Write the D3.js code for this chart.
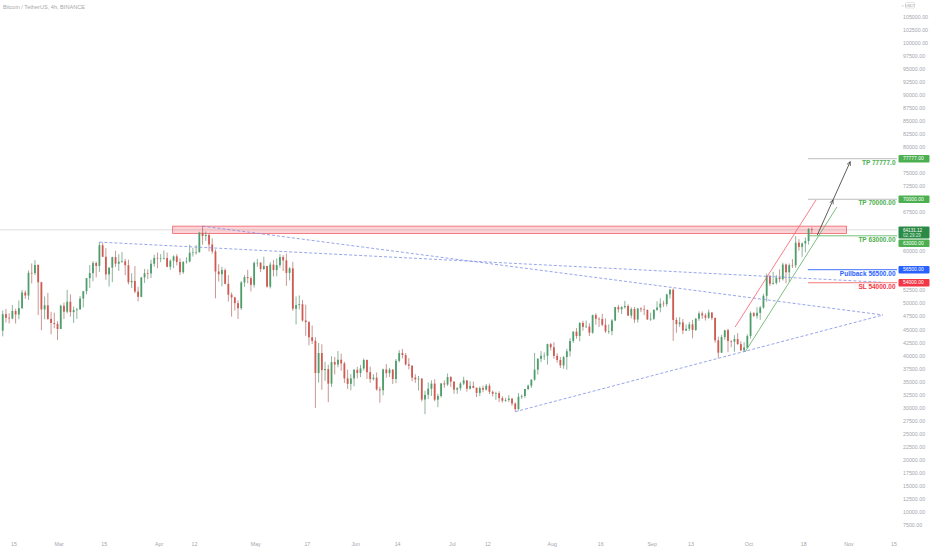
<!DOCTYPE html>
<html>
<head>
<meta charset="utf-8">
<script src="https://cdn.jsdelivr.net/npm/d3@7"></script>
<style>
  html, body { margin: 0; padding: 0; background: #fff; }
  svg { display: block; font-family: "Liberation Sans", Arial, sans-serif; }
</style>
</head>
<body>
<div id="chart"></div>
<script>
// BTC/USDT daily candles, 2021-02-11 .. 2021-10-20 (open = previous close)
const firstDay = "2021-02-11"
const firstOpen = 44807

const highs = [
  // Feb 11-28
  48678, 48985, 48150, 49707, 49010, 50600, 52618, 52530, 56368, 57700, 58352, 57533, 54183, 51374, 52041, 48424, 48253, 46638,
  // Mar
  49790, 50200, 52640, 51773, 49448, 49200, 51450, 52402, 54895, 57387, 58150, 58058, 61788, 61683, 60633, 56938, 58981, 60129, 59468, 59880, 58589, 58430, 55830, 57200, 53230, 55073, 56640, 56559, 58400, 59368, 59800,
  // Apr
  59490, 60200, 59791, 58500, 59251, 59475, 58650, 58153, 58894, 61300, 60680, 61200, 63774, 64854, 63800, 63520, 62500, 60400, 57526, 57076, 56757, 55460, 52130, 51300, 50591, 54356, 55466, 56476, 55200, 58075,
  // May
  58550, 57950, 58992, 57250, 57939, 58360, 58650, 59500, 59300, 59592, 57000, 58000, 51367, 51569, 50700, 49800, 46650, 45800, 43546, 42451, 42200, 38829, 38270, 39920, 39791, 40900, 40411, 38856, 37338, 36488, 37499,
  // Jun
  37894, 38225, 39476, 39289, 37921, 36477, 36800, 34068, 37534, 38400, 37690, 37463, 39380, 41064, 41330, 40527, 39559, 38202, 36457, 36137, 35750, 33298, 34881, 35298, 35500, 32730, 34749, 35297, 36600, 36100,
  // Jul
  35100, 33977, 34945, 35967, 35293, 35118, 35059, 33910, 34100, 34262, 34592, 34678, 33340, 33114, 33185, 32249, 31940, 32435, 31899, 31063, 32858, 32576, 33650, 34500, 35450, 40550, 39542, 40900, 40640, 42316, 42448,
  // Aug
  42599, 40480, 39780, 39969, 41350, 43392, 44700, 45310, 46454, 46700, 46743, 46218, 47886, 48144, 47372, 48053, 47160, 46000, 47033, 49382, 49757, 49500, 50500, 49875, 49300, 49369, 49184, 49309, 49667, 48888, 48246,
  // Sep
  48888, 50450, 51000, 50558, 51900, 52780, 52920, 47340, 47399, 47033, 45987, 46460, 46880, 47250, 48500, 48486, 48150, 48843, 48372, 47358, 43639, 44000, 44978, 45200, 42966, 43950, 44350, 42787, 42590, 44132,
  // Oct 1-20
  48495, 48359, 49300, 49530, 51886, 55750, 55400, 56100, 55489, 56561, 57839, 57680, 57700, 58532, 62933, 62350, 61720, 62675, 64486, 64600
]

const lows = [
  43727, 46400, 46202, 47014, 46174, 47003, 48947, 50901, 50710, 53863, 55477, 47800, 44892, 47003, 46890, 44106, 45269, 43000,
  45115, 47047, 48100, 47500, 46300, 47070, 48875, 49274, 51789, 53005, 54269, 55012, 56083, 58963, 54568, 53271, 54124, 57023, 56270, 57820, 55450, 53650, 53000, 52000, 50427, 51225, 53966, 54691, 54900, 57072, 56769,
  57935, 58435, 56956, 56478, 56800, 57333, 55473, 55700, 57654, 57900, 59018, 59369, 59800, 61301, 62020, 60000, 59580, 51000, 54221, 53329, 53695, 50400, 47500, 48657, 47044, 48800, 53222, 53887, 52330, 53068,
  57052, 56035, 56478, 53046, 52900, 55200, 55241, 56900, 56235, 53400, 54440, 48600, 46000, 48895, 46555, 43825, 42001, 42250, 30000, 34850, 33488, 35200, 31111, 34031, 36420, 37800, 37134, 34779, 33633, 33379, 34153,
  35666, 35920, 37170, 35555, 34800, 35258, 33300, 31000, 32396, 35791, 35950, 34600, 34757, 38730, 39506, 38116, 37365, 35129, 34803, 33336, 31251, 28805, 31683, 32286, 31275, 30151, 32000, 33862, 34225, 34017,
  32711, 32699, 33316, 34357, 33125, 33532, 33777, 32077, 32261, 33004, 33326, 32658, 32202, 31550, 31133, 31021, 31164, 31108, 30407, 29278, 29482, 31708, 31924, 33401, 33851, 35205, 36383, 38772, 39200, 38313, 41000,
  39422, 38690, 37642, 37508, 37332, 39853, 42450, 43261, 42779, 44800, 45341, 43770, 44217, 45971, 45500, 45660, 44376, 44203, 43927, 46622, 48280, 48004, 49029, 47600, 47163, 46315, 46366, 48370, 47801, 46853, 46700,
  46853, 48584, 48316, 49370, 49450, 50969, 42843, 44412, 45513, 44134, 44722, 44742, 43370, 44750, 46700, 47079, 46750, 47044, 46829, 42500, 39600, 40565, 43069, 40675, 41646, 40750, 42098, 40888, 40753, 41410,
  43283, 47451, 47120, 46891, 49022, 50382, 53357, 53617, 53661, 54080, 54415, 53879, 54167, 56818, 56850, 60150, 58963, 59844, 61322, 63500
]

const closes = [
  47969, 47287, 47153, 48577, 47911, 49133, 52119, 51552, 55906, 55841, 57408, 54087, 48891, 49676, 47073, 46277, 46106, 45135,
  49587, 48440, 50349, 48374, 48751, 48882, 50971, 52375, 54884, 55851, 57773, 57221, 61188, 58968, 55605, 56900, 58912, 57648, 58030, 58102, 57351, 54083, 54340, 52303, 51293, 55025, 55817, 55777, 57636, 58760, 58727,
  58730, 58735, 57059, 58206, 59054, 57970, 56013, 57972, 58077, 59765, 59793, 59846, 63588, 62959, 63159, 61334, 60006, 56150, 55633, 56425, 53787, 51700, 51187, 50089, 49121, 54050, 55074, 54882, 53602, 57800,
  57829, 56610, 57213, 53241, 57473, 56428, 57380, 58928, 58280, 55883, 56751, 49007, 49716, 49880, 46761, 46450, 43538, 42850, 36690, 40526, 37252, 37449, 34655, 38796, 38324, 39241, 38529, 35664, 34607, 35658, 37293,
  36699, 37568, 39187, 36851, 35520, 35797, 33552, 33380, 37388, 36675, 37331, 35546, 39020, 40516, 40144, 38349, 38092, 35820, 35483, 35600, 31608, 32509, 33678, 34663, 31584, 32283, 34700, 34494, 35911, 35045,
  33504, 33786, 34669, 35286, 33690, 34220, 33863, 32875, 33815, 33502, 34258, 33086, 32729, 32820, 31880, 31383, 31520, 31778, 30839, 29790, 32144, 32287, 33634, 34258, 35425, 37337, 39406, 39995, 40008, 42235, 41626,
  39974, 39201, 38152, 39747, 40869, 42836, 44614, 43792, 46284, 45543, 45595, 44428, 47793, 47096, 47047, 45936, 44686, 44741, 46763, 49339, 48905, 49321, 49546, 47706, 48960, 46942, 49058, 48897, 48767, 46970, 47100,
  48810, 49246, 49999, 49915, 51756, 52663, 46863, 46048, 46395, 44851, 45171, 46025, 44940, 47111, 48121, 47737, 47299, 48293, 47242, 42966, 40588, 43577, 44895, 42839, 42716, 43208, 42235, 41034, 41564, 43790,
  48165, 47657, 48233, 49245, 51493, 55340, 53797, 53963, 54963, 54690, 57485, 56006, 57367, 57347, 61672, 60875, 61528, 62009, 64280, 64131
]

const lastPrice = 64131.12
const barCountdown = "02:29:29"

const priceTicks = [7500, 10000, 12500, 15000, 17500, 20000, 22500, 25000, 27500, 30000, 32500, 35000, 37500, 40000,
  42500, 45000, 47500, 50000, 52500, 55000, 57500, 60000, 62500, 65000, 67500, 70000, 72500, 75000, 77500, 80000,
  82500, 85000, 87500, 90000, 92500, 95000, 97500, 100000, 102500, 105000]

const timeTicks = [
  ["2021-02-15", "15"], ["2021-03-01", "Mar"], ["2021-03-15", "15"], ["2021-04-01", "Apr"], ["2021-04-12", "12"],
  ["2021-05-01", "May"], ["2021-05-17", "17"], ["2021-06-01", "Jun"], ["2021-06-14", "14"], ["2021-07-01", "Jul"],
  ["2021-07-12", "12"], ["2021-08-01", "Aug"], ["2021-08-16", "16"], ["2021-09-01", "Sep"], ["2021-09-13", "13"],
  ["2021-10-01", "Oct"], ["2021-10-18", "18"], ["2021-11-01", "Nov"], ["2021-11-15", "15"]
]

// drawings (time, price)
const zone = { from: "2021-04-05T05:00", to: "2021-10-31T07:00", top: 64850, bottom: 63450 }

const dashedLines = [
  [["2021-04-14T12:00", 64854], ["2021-11-11T14:00", 47815]],
  [["2021-03-13T12:00", 61788], ["2021-11-11T00:00", 54100]],
  [["2021-07-20T12:00", 29278], ["2021-11-11T14:00", 47815]]
]

const channelLines = [
  { kind: "upper", points: [["2021-09-26T17:00", 45500], ["2021-10-21T19:00", 69860]] },
  { kind: "lower", points: [["2021-09-29T19:00", 40720], ["2021-10-28T07:00", 68520]] }
]

const arrowPath = [["2021-10-22T05:00", 63150], ["2021-10-27T02:00", 69860], ["2021-11-01T10:00", 77200]]

const levelStart = "2021-10-19T07:00"
const levels = [
  { price: 77777, text: "TP 77777.0", axis: "77777.00", kind: "tp" },
  { price: 70000, text: "TP 70000.00", axis: "70000.00", kind: "tp" },
  { price: 63000, text: "TP 63000.00", axis: "63000.00", kind: "tp63" },
  { price: 56500, text: "Pullback 56500.00", axis: "56500.00", kind: "pullback" },
  { price: 54000, text: "SL 54000.00", axis: "54000.00", kind: "sl" }
]

const levelStyle = {
  tp: { line: "#b8b8b8", text: "#4caf50", box: "#4caf50" },
  tp63: { line: "#66bb6a", text: "#4caf50", box: "#4caf50" },
  pullback: { line: "#2962ff", text: "#2962ff", box: "#2962ff" },
  sl: { line: "#f06b6b", text: "#f23645", box: "#f23645" }
}

const width = 932, height = 550
const plotRight = 897, plotBottom = 536

const parse = d3.utcParse("%Y-%m-%dT%H:%M")
const parseDay = d3.utcParse("%Y-%m-%d")
const t = s => s.length > 10 ? parse(s) : parseDay(s)

const x = d3.scaleUtc([t("2021-02-15"), t("2021-11-15")], [14, 894])
const y = d3.scaleLinear([7500, 105000], [525.3, 16.7])

const start = t(firstDay)
const candles = closes.map((c, i) => ({
  date: d3.utcHour.offset(d3.utcDay.offset(start, i), 12),
  open: i === 0 ? firstOpen : closes[i - 1],
  high: highs[i],
  low: lows[i],
  close: c
}))

const svg = d3.select("#chart").append("svg")
  .attr("width", width)
  .attr("height", height)

svg.append("rect").attr("width", width).attr("height", height).attr("fill", "#fff")

svg.append("clipPath").attr("id", "plot-clip")
  .append("rect").attr("x", 0).attr("y", 0).attr("width", plotRight).attr("height", plotBottom)

const plot = svg.append("g").attr("clip-path", "url(#plot-clip)")

// last price line
plot.append("line")
  .attr("x1", 0).attr("x2", plotRight)
  .attr("y1", y(lastPrice)).attr("y2", y(lastPrice))
  .attr("stroke", "#c8c8c8").attr("stroke-width", 0.6)

// resistance zone
plot.append("rect")
  .attr("x", x(t(zone.from)))
  .attr("y", y(zone.top))
  .attr("width", x(t(zone.to)) - x(t(zone.from)))
  .attr("height", y(zone.bottom) - y(zone.top))
  .attr("fill", "rgba(242,54,69,0.22)")
  .attr("stroke", "#f0606a")
  .attr("stroke-width", 0.8)

// candles
const up = "#4e9e6c", down = "#cf5a52"
const bodyW = 1.8
const candleG = plot.append("g")
candleG.selectAll("line")
  .data(candles)
  .join("line")
    .attr("x1", d => x(d.date)).attr("x2", d => x(d.date))
    .attr("y1", d => y(d.high)).attr("y2", d => y(d.low))
    .attr("stroke", d => d.close >= d.open ? "#3f7f57" : "#a4514b")
    .attr("stroke-width", 0.6)
candleG.selectAll("rect")
  .data(candles)
  .join("rect")
    .attr("x", d => x(d.date) - bodyW / 2)
    .attr("width", bodyW)
    .attr("y", d => y(Math.max(d.open, d.close)))
    .attr("height", d => Math.max(0.6, Math.abs(y(d.open) - y(d.close))))
    .attr("fill", d => d.close >= d.open ? up : down)

// dashed trend lines
const line = d3.line().x(d => x(t(d[0]))).y(d => y(d[1]))
plot.append("g")
  .selectAll("path")
  .data(dashedLines)
  .join("path")
    .attr("d", line)
    .attr("fill", "none")
    .attr("stroke", "#7d8fe6")
    .attr("stroke-width", 0.8)
    .attr("stroke-dasharray", "3,2")

// channel
plot.append("g")
  .selectAll("path")
  .data(channelLines)
  .join("path")
    .attr("d", d => line(d.points))
    .attr("fill", "none")
    .attr("stroke", d => d.kind === "upper" ? "#f2606c" : "#5cae60")
    .attr("stroke-width", 0.8)

// level lines + labels
const levelG = plot.append("g")
levelG.selectAll("line")
  .data(levels)
  .join("line")
    .attr("x1", x(t(levelStart))).attr("x2", plotRight)
    .attr("y1", d => y(d.price)).attr("y2", d => y(d.price))
    .attr("stroke", d => levelStyle[d.kind].line)
    .attr("stroke-width", 0.9)
levelG.selectAll("text")
  .data(levels)
  .join("text")
    .attr("x", 895.5)
    .attr("y", d => y(d.price) + 6)
    .attr("text-anchor", "end")
    .attr("font-size", 6.5)
    .attr("font-weight", "bold")
    .attr("fill", d => levelStyle[d.kind].text)
    .text(d => d.text)

// arrows
const defs = svg.append("defs")
defs.append("marker")
  .attr("id", "arrow-head")
  .attr("viewBox", "0 0 10 10")
  .attr("refX", 9).attr("refY", 5)
  .attr("markerWidth", 6).attr("markerHeight", 6)
  .attr("orient", "auto")
  .append("path")
    .attr("d", "M1,1 L9,5 L1,9")
    .attr("fill", "none")
    .attr("stroke", "#333")
    .attr("stroke-width", 1.3)

plot.append("g")
  .selectAll("path")
  .data(d3.pairs(arrowPath))
  .join("path")
    .attr("d", line)
    .attr("fill", "none")
    .attr("stroke", "#333")
    .attr("stroke-width", 0.8)
    .attr("marker-end", "url(#arrow-head)")

// label boxes on the price axis (computed first so covered ticks can be hidden)
const boxH = 7.4, boxX = 898.5, boxW = 31
const lastTop = y(lastPrice) - 3.3
const lastBottom = lastTop + 12
const boxes = levels.map(d => {
  let top = y(d.price) - boxH / 2
  if (top < lastBottom + 1 && top + boxH > lastTop) top = lastBottom + 1
  return { ...d, top }
})
const covered = [[lastTop, lastBottom], ...boxes.map(b => [b.top, b.top + boxH])]
const visibleTicks = priceTicks.filter(v => !covered.some(([a, b]) => y(v) > a - 2.5 && y(v) < b + 2.5))

// price axis
const axisG = svg.append("g").attr("font-size", 5.3).attr("fill", "#a3a6ae")
axisG.selectAll("text")
  .data(visibleTicks)
  .join("text")
    .attr("x", 903)
    .attr("y", d => y(d))
    .attr("dy", "0.35em")
    .text(d => d3.format(".2f")(d))

const boxG = svg.append("g")
boxG.selectAll("rect")
  .data(boxes)
  .join("rect")
    .attr("x", boxX).attr("y", d => d.top)
    .attr("width", boxW).attr("height", boxH)
    .attr("rx", 1)
    .attr("fill", d => levelStyle[d.kind].box)
boxG.selectAll("text")
  .data(boxes)
  .join("text")
    .attr("x", 903).attr("y", d => d.top + boxH / 2)
    .attr("dy", "0.35em")
    .attr("font-size", 5)
    .attr("fill", "#fff")
    .text(d => d.axis)

// current price label
const lastG = svg.append("g")
lastG.append("rect")
  .attr("x", boxX).attr("y", lastTop)
  .attr("width", boxW).attr("height", lastBottom - lastTop)
  .attr("rx", 1)
  .attr("fill", "#2b8a46")
lastG.append("text")
  .attr("x", 903).attr("y", lastTop + 3.9)
  .attr("font-size", 4.6).attr("fill", "#fff")
  .attr("dy", "0.35em")
  .text(d3.format(".2f")(lastPrice))
lastG.append("text")
  .attr("x", 903).attr("y", lastTop + 9)
  .attr("font-size", 4.6).attr("fill", "#d8eedd")
  .attr("dy", "0.35em")
  .text(barCountdown)

// time axis
svg.append("g")
  .attr("font-size", 5.3)
  .attr("fill", "#a3a6ae")
  .attr("text-anchor", "middle")
  .selectAll("text")
  .data(timeTicks)
  .join("text")
    .attr("x", d => x(t(d[0])))
    .attr("y", 546)
    .text(d => d[1])

// header
svg.append("text")
  .attr("x", 3).attr("y", 9)
  .attr("font-size", 5.6)
  .attr("fill", "#a8a8a8")
  .text("Bitcoin / TetherUS, 4h, BINANCE")

const cur = svg.append("g")
cur.append("rect")
  .attr("x", 905.5).attr("y", 2.5)
  .attr("width", 9).attr("height", 5.5)
  .attr("rx", 1)
  .attr("fill", "none").attr("stroke", "#c8c8c8").attr("stroke-width", 0.5)
cur.append("text")
  .attr("x", 910).attr("y", 6.7)
  .attr("text-anchor", "middle")
  .attr("font-size", 3.6).attr("fill", "#a0a0a0")
  .text("USDT")
cur.append("text")
  .attr("x", 901.5).attr("y", 7)
  .attr("font-size", 4).attr("fill", "#b0b0b0")
  .text("≈")
</script>
</body>
</html>
